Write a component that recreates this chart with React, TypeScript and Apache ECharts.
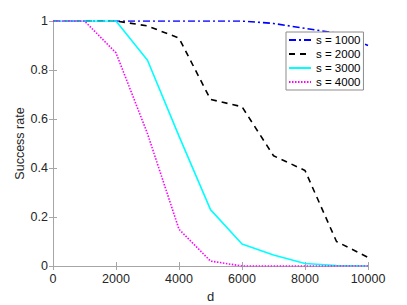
import React, { useEffect, useRef } from "react";
import * as echarts from "echarts";

const dValues = [0, 1000, 2000, 3000, 4000, 5000, 6000, 7000, 8000, 9000, 10000];
const s1000 = [1, 1, 1, 1, 1, 1, 1, 0.99, 0.97, 0.95, 0.9];
const s2000 = [1, 1, 1, 0.98, 0.93, 0.68, 0.65, 0.45, 0.39, 0.1, 0.035];
const s3000 = [1, 1, 1, 0.84, 0.53, 0.23, 0.09, 0.045, 0.01, 0.002, 0];
const s4000 = [1, 1, 0.87, 0.54, 0.15, 0.02, 0, 0, 0, 0, 0];
const seriesNames = ["s = 1000", "s = 2000", "s = 3000", "s = 4000"];
const xTicks = { min: 0, max: 10000, interval: 2000 };
const yTicks = { min: 0, max: 1, interval: 0.2 };

const FONT = "Liberation Sans, Arial, Helvetica, sans-serif";
const AXIS_COLOR = "#a6a6a6";
const TEXT_COLOR = "#262626";

export default function App() {
  const ref = useRef<HTMLDivElement>(null);
  useEffect(() => {
    if (!ref.current) return;
    const chart = echarts.init(ref.current, undefined, { renderer: "svg" });
    const mk = (arr: number[]) => dValues.map((d, i) => [d, arr[i]]);
    const styles = [
      { color: "#0000ff", type: [7, 3, 2, 3] },
      { color: "#000000", type: [6, 5] },
      { color: "#00ffff", type: "solid" },
      { color: "#ff00ff", type: [1.5, 1.5] },
    ];
    const datas = [s1000, s2000, s3000, s4000];
    const axisCommon = {
      axisLine: { show: true, lineStyle: { color: AXIS_COLOR, width: 1 } },
      axisTick: { show: true, inside: true, length: 4, lineStyle: { color: AXIS_COLOR } },
      splitLine: { show: false },
    };
    chart.setOption({
      animation: false,
      backgroundColor: "#ffffff",
      grid: {
        left: 53,
        top: 21,
        width: 315,
        height: 245,
        containLabel: false,
        outerBoundsMode: "none",
      },
      legend: {
        orient: "vertical",
        left: 286,
        top: 32,
        data: seriesNames,
        backgroundColor: "#ffffff",
        borderColor: "#8c8c8c",
        borderWidth: 1,
        borderRadius: 0,
        padding: [2, 3, 2, 2],
        itemWidth: 22,
        itemHeight: 10,
        itemGap: 2,
        itemTextGap: 3,
        itemStyle: { opacity: 0 },
        textStyle: { fontFamily: FONT, fontSize: 11.5, color: "#000", lineHeight: 12 },
      },
      xAxis: [
        {
          type: "value",
          ...xTicks,
          position: "bottom",
          name: "d",
          nameLocation: "middle",
          nameGap: 24,
          nameMoveOverlap: false,
          nameTextStyle: { fontFamily: FONT, fontSize: 13, color: TEXT_COLOR },
          axisLabel: {
            fontFamily: FONT,
            fontSize: 12.5,
            color: TEXT_COLOR,
            margin: 6,
            formatter: (v: number) => String(v),
          },
          ...axisCommon,
        },
        {
          type: "value",
          ...xTicks,
          position: "top",
          axisLabel: { show: false },
          ...axisCommon,
        },
      ],
      yAxis: [
        {
          type: "value",
          ...yTicks,
          position: "left",
          name: "Success rate",
          nameLocation: "middle",
          nameGap: 27,
          nameMoveOverlap: false,
          nameTextStyle: { fontFamily: FONT, fontSize: 12.5, color: TEXT_COLOR },
          axisLabel: { fontFamily: FONT, fontSize: 12.5, color: TEXT_COLOR, margin: 5 },
          ...axisCommon,
        },
        {
          type: "value",
          ...yTicks,
          position: "right",
          axisLabel: { show: false },
          ...axisCommon,
        },
      ],
      series: seriesNames.map((name, i) => ({
        name,
        type: "line",
        data: mk(datas[i]),
        showSymbol: false,
        symbol: "none",
        color: styles[i].color,
        lineStyle: { color: styles[i].color, width: 1.6, type: styles[i].type as any },
        z: 2 + i,
      })),
    });
    return () => chart.dispose();
  }, []);
  return (
    <div
      ref={ref}
      style={{ position: "absolute", left: 0, top: 0, width: 407, height: 305 }}
    />
  );
}
